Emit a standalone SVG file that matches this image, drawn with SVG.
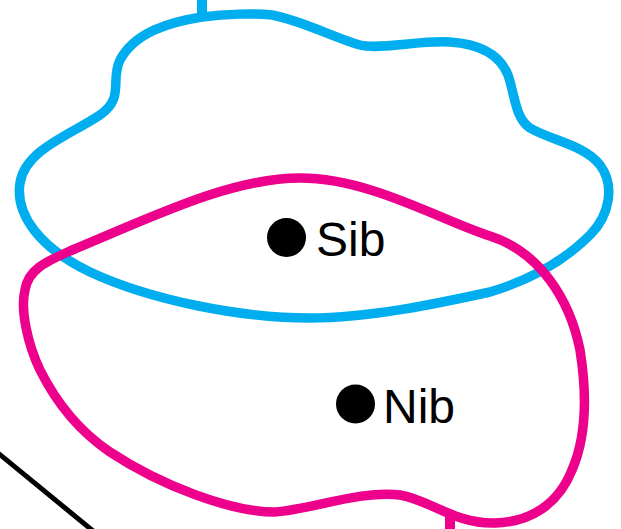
<svg xmlns="http://www.w3.org/2000/svg" width="621" height="529" viewBox="0 0 621 529">
<style>
.blob{fill:none;stroke-width:9.5;stroke-linejoin:round}
.blue{stroke:#00AEEF}
.mag{stroke:#EC008C}
.lbl{font-family:"Liberation Sans",Arial,sans-serif;font-size:48px;fill:#000}
.dot{fill:#000}
</style>
<rect width="621" height="529" fill="#fff"/>
<g id="connectors">
<line x1="202" y1="0" x2="202" y2="18" stroke="#00AEEF" stroke-width="10"/>
<line x1="450" y1="516" x2="450" y2="529" stroke="#EC008C" stroke-width="10"/>
<line x1="-2" y1="453" x2="98" y2="535" stroke="#000" stroke-width="5"/>
</g>
<g id="sib-region">
<path class="blob blue" d="M 202 17 C 225 14, 255 13, 272 15 C 300 20, 335 38, 360 45 C 380 50, 420 40, 450 42 C 480 44, 500 55, 508 75 C 515 95, 515 118, 530 128 C 550 140, 585 145, 600 165 C 615 185, 610 215, 590 235 C 565 260, 530 280, 490 292 C 440 303, 370 318, 310 318 C 240 318, 150 300, 90 272 C 40 248, 15 215, 20 183 C 25 150, 70 135, 100 115 C 125 98, 110 80, 120 60 C 135 32, 170 22, 202 17 Z"/>
</g>
<g id="nib-region">
<path class="blob mag" d="M 300 178 C 370 178, 440 220, 490 236 C 540 252, 570 300, 580 350 C 588 400, 585 440, 572 470 C 558 505, 530 522, 495 523 C 455 524, 430 500, 400 495 C 360 490, 310 510, 275 512 C 230 512, 160 485, 110 452 C 70 425, 50 390, 40 370 C 28 345, 20 310, 25 290 C 28 270, 45 262, 70 251 C 150 218, 230 178, 300 178 Z"/>
</g>
<g id="sib">
<circle class="dot" cx="286.5" cy="237.5" r="19.5"/>
<text class="lbl" x="316" y="256">Sib</text>
</g>
<g id="nib">
<circle class="dot" cx="355.5" cy="404" r="19.5"/>
<text class="lbl" x="383" y="423">Nib</text>
</g>
</svg>
